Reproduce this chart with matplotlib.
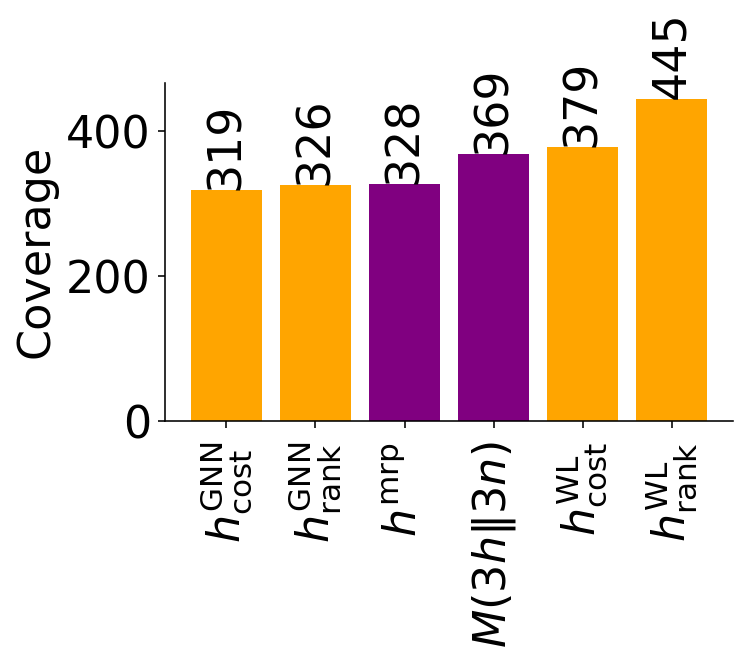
import matplotlib
matplotlib.use("Agg")
import matplotlib.pyplot as plt

labels = [r"$h^{\mathrm{GNN}}_{\mathrm{cost}}$", r"$h^{\mathrm{GNN}}_{\mathrm{rank}}$",
          r"$h^{\mathrm{mrp}}$", r"$M(3h\|3n)$",
          r"$h^{\mathrm{WL}}_{\mathrm{cost}}$", r"$h^{\mathrm{WL}}_{\mathrm{rank}}$"]
values = [319, 326, 328, 369, 379, 445]
colors = ["orange", "orange", "purple", "purple", "orange", "orange"]

fig = plt.figure(figsize=(7.47, 6.62), dpi=100)
ax = fig.add_axes([0.2209, 0.3640, 0.7604, 0.5111])
x = list(range(len(values)))
ax.bar(x, values, color=colors, width=0.8)
for xi, v in zip(x, values):
    ax.text(xi, v, str(v), rotation=90, ha="center", va="bottom", fontsize=33)
ax.set_xticks(x)
ax.set_xticklabels(labels, rotation=90, fontsize=32)
ax.set_yticks([0, 200, 400])
ax.tick_params(axis="y", labelsize=32)
ax.tick_params(axis="both", length=5, width=1.15)
ax.tick_params(axis="y", pad=5)
ax.tick_params(axis="x", pad=10)
ax.set_ylabel("Coverage", fontsize=32, labelpad=6)
ax.spines["top"].set_visible(False)
ax.spines["right"].set_visible(False)
for s in ("left", "bottom"):
    ax.spines[s].set_linewidth(1.15)
fig.savefig("out.png", dpi=100)
